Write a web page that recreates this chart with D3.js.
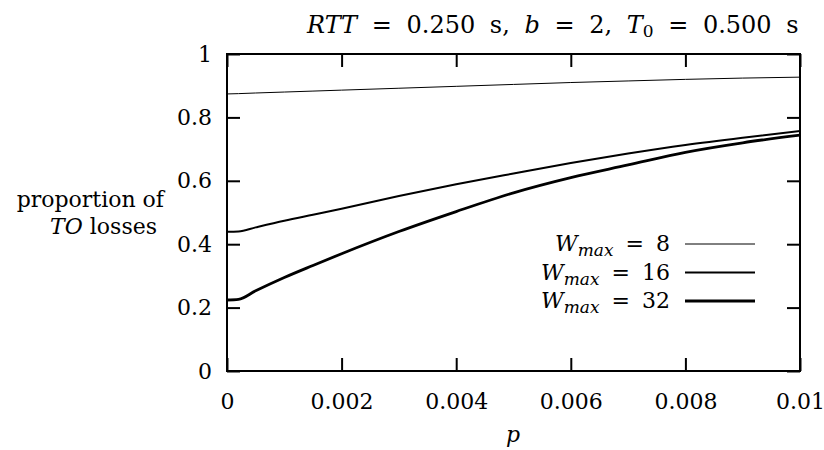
<!DOCTYPE html>
<html>
<head>
<meta charset="utf-8">
<script src="https://cdnjs.cloudflare.com/ajax/libs/d3/7.8.5/d3.min.js"></script>
<style>
  body { margin: 0; background: #fff; }
  svg text { font-family: "DejaVu Serif", serif; fill: #000; }
</style>
</head>
<body>
<svg id="chart" width="824" height="450"></svg>
<script>
// values
var pValues = [0, 0.0002, 0.0005, 0.001, 0.0015, 0.002, 0.003, 0.004, 0.005, 0.006, 0.007, 0.008, 0.009, 0.01];
var wmax8  = [0.874, 0.875, 0.877, 0.880, 0.883, 0.886, 0.892, 0.898, 0.904, 0.910, 0.915, 0.920, 0.924, 0.927];
var wmax16 = [0.439, 0.440, 0.453, 0.474, 0.493, 0.512, 0.552, 0.589, 0.623, 0.656, 0.686, 0.713, 0.736, 0.757];
var wmax32 = [0.224, 0.226, 0.253, 0.295, 0.333, 0.370, 0.440, 0.503, 0.562, 0.610, 0.650, 0.690, 0.720, 0.744];
var seriesNames = ["8", "16", "32"];
var xTicks = [0, 0.002, 0.004, 0.006, 0.008, 0.01];
var xTickLabels = ["0", "0.002", "0.004", "0.006", "0.008", "0.01"];
var yTicks = [0, 0.2, 0.4, 0.6, 0.8, 1];
var yTickLabels = ["0", "0.2", "0.4", "0.6", "0.8", "1"];

var svg = d3.select("#chart"),
    margin = {top: 54, right: 24, bottom: 79, left: 227},
    width = 824 - margin.left - margin.right,
    height = 450 - margin.top - margin.bottom,
    g = svg.append("g").attr("transform", "translate(" + margin.left + "," + margin.top + ")");

var x = d3.scaleLinear().domain([0, 0.01]).range([0, width]);
var y = d3.scaleLinear().domain([0, 1]).range([height, 0]);

var fontSize = 22;
var subSize = 17;
var widths = [1, 2, 2.8];
var series = [wmax8, wmax16, wmax32];

// axes: ticks point inward and are mirrored on the other side
function styleAxis(sel) {
  sel.attr("font-family", null);
  sel.select(".domain").remove();
  sel.selectAll("line").attr("stroke", "#000").attr("stroke-width", 2);
  sel.selectAll("text").attr("font-size", fontSize);
}
g.append("g").attr("transform", "translate(0," + height + ")")
  .call(d3.axisBottom(x).tickValues(xTicks).tickSize(-13).tickPadding(22)
    .tickFormat(function(d, i) { return xTickLabels[i]; }))
  .call(styleAxis);
g.append("g")
  .call(d3.axisTop(x).tickValues(xTicks).tickSize(-13).tickFormat(""))
  .call(styleAxis);
g.append("g")
  .call(d3.axisLeft(y).tickValues(yTicks).tickSize(-13).tickPadding(15)
    .tickFormat(function(d, i) { return yTickLabels[i]; }))
  .call(styleAxis);
g.append("g").attr("transform", "translate(" + width + ",0)")
  .call(d3.axisRight(y).tickValues(yTicks).tickSize(-13).tickFormat(""))
  .call(styleAxis);

g.append("rect")
  .attr("width", width).attr("height", height)
  .attr("fill", "none").attr("stroke", "#000").attr("stroke-width", 2);

var line = d3.line()
  .x(function(d, i) { return x(pValues[i]); })
  .y(function(d) { return y(d); })
  .curve(d3.curveMonotoneX);

g.selectAll(".series")
  .data(series)
  .enter().append("path")
    .attr("class", "series")
    .attr("fill", "none")
    .attr("stroke", "#000")
    .attr("stroke-width", function(d, i) { return widths[i]; })
    .attr("d", line);

// legend
var legend = g.selectAll(".legend")
  .data(seriesNames)
  .enter().append("g")
    .attr("transform", function(d, i) { return "translate(0," + (190 + i * 28.5) + ")"; });

legend.append("line")
  .attr("x1", 458).attr("x2", 528)
  .attr("stroke", "#000")
  .attr("stroke-width", function(d, i) { return widths[i]; });

var lt = legend.append("text")
  .attr("x", 443).attr("y", 7)
  .attr("text-anchor", "end")
  .attr("font-size", fontSize)
  .attr("word-spacing", 5);
lt.append("tspan").attr("font-style", "italic").text("W");
lt.append("tspan").attr("font-style", "italic").attr("font-size", subSize).attr("dy", 5).text("max");
lt.append("tspan").attr("dy", -5).text(function(d) { return " = " + d; });

// title
var title = svg.append("text")
  .attr("x", 307).attr("y", 33)
  .attr("text-anchor", "start")
  .attr("font-size", 24)
  .attr("word-spacing", 7);
title.append("tspan").attr("font-style", "italic").text("RTT");
title.append("tspan").text(" = 0.250 s, ");
title.append("tspan").attr("font-style", "italic").text("b");
title.append("tspan").text(" = 2, ");
title.append("tspan").attr("font-style", "italic").text("T");
title.append("tspan").attr("font-size", subSize).attr("dy", 4).text("0");
title.append("tspan").attr("dy", -4).text(" = 0.500 s");

// y label
svg.append("text")
  .attr("font-size", fontSize)
  .attr("text-anchor", "end")
  .attr("x", 164).attr("y", 207)
  .text("proportion of");
var yl2 = svg.append("text")
  .attr("font-size", fontSize)
  .attr("text-anchor", "end")
  .attr("x", 157).attr("y", 234);
yl2.append("tspan").attr("font-style", "italic").text("TO");
yl2.append("tspan").text(" losses");

// x label
svg.append("text")
  .attr("x", 513).attr("y", 442)
  .attr("text-anchor", "middle")
  .attr("font-size", fontSize)
  .attr("font-style", "italic")
  .text("p");
</script>
</body>
</html>
